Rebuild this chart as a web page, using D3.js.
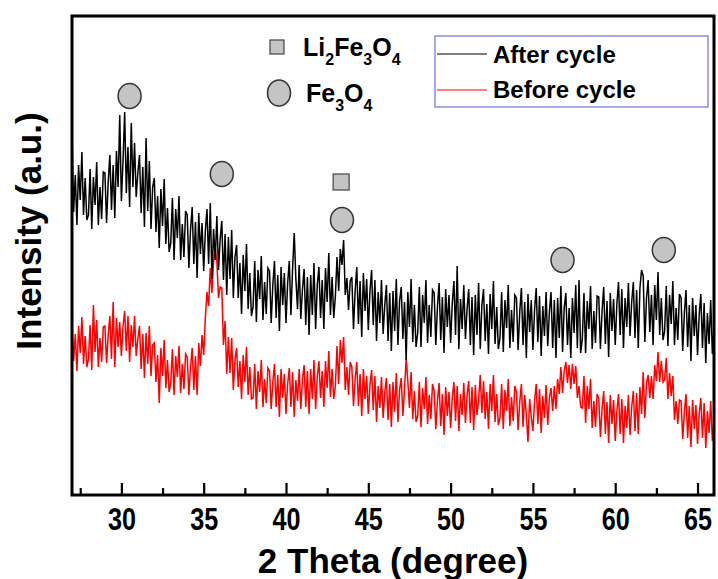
<!DOCTYPE html>
<html>
<head>
<meta charset="utf-8">
<script src="https://cdn.jsdelivr.net/npm/d3@7"></script>
<style>
  body { margin: 0; background: #fff; }
  svg { display: block; font-family: "Liberation Sans", Arial, sans-serif; font-weight: bold; }
</style>
</head>
<body>
<div id="chart"></div>
<script>
// scan grid (degrees 2theta)
const thetaStart = 27;
const thetaStep = 0.1;

// intensities, one row per degree (27.0 .. 65.9, then 66.0)
const afterCycle = [
  362, 283, 320, 270, 330, 295, 343, 280, 317, 275,
  280, 326, 266, 318, 290, 333, 270, 308, 276, 323,
  322, 272, 313, 340, 285, 330, 277, 344, 308, 380,
  294, 334, 383, 302, 348, 288, 372, 308, 352, 298,
  322, 340, 282, 328, 268, 357, 284, 334, 266, 308,
  317, 263, 299, 247, 306, 269, 316, 251, 287, 243,
  252, 297, 235, 286, 257, 299, 235, 271, 238, 284,
  280, 227, 265, 288, 231, 273, 217, 282, 241, 272,
  224, 264, 286, 231, 292, 216, 266, 235, 279, 225,
  256, 274, 215, 261, 200, 258, 216, 265, 197, 238,
  250, 197, 232, 181, 240, 204, 251, 186, 222, 179,
  188, 234, 173, 225, 196, 239, 175, 213, 181, 227,
  224, 172, 210, 234, 177, 220, 164, 228, 190, 222,
  172, 212, 234, 180, 226, 262, 216, 186, 230, 176,
  206, 226, 170, 218, 160, 220, 180, 232, 166, 210,
  228, 177, 215, 166, 227, 193, 242, 180, 218, 177,
  199, 238, 204, 246, 230, 255, 200, 217, 185, 214,
  218, 166, 204, 228, 171, 214, 158, 222, 184, 216,
  165, 204, 225, 170, 215, 154, 203, 172, 215, 161,
  190, 210, 154, 202, 144, 204, 164, 216, 150, 194,
  208, 156, 193, 135, 203, 168, 216, 153, 190, 148,
  162, 208, 148, 200, 172, 215, 152, 190, 158, 205,
  202, 150, 188, 212, 155, 198, 142, 206, 168, 200,
  152, 192, 214, 160, 229, 146, 196, 166, 210, 156,
  186, 206, 150, 198, 140, 200, 160, 212, 146, 190,
  206, 154, 191, 141, 201, 166, 214, 151, 188, 146,
  157, 203, 143, 195, 167, 210, 147, 185, 153, 200,
  197, 145, 183, 207, 150, 193, 137, 201, 163, 195,
  145, 185, 207, 153, 199, 139, 189, 159, 203, 149,
  183, 203, 147, 195, 137, 197, 157, 209, 143, 187,
  202, 150, 187, 137, 197, 162, 210, 147, 215, 142,
  156, 202, 142, 194, 166, 209, 146, 184, 152, 199,
  198, 146, 184, 208, 151, 194, 138, 202, 164, 196,
  150, 191, 213, 160, 206, 147, 197, 168, 212, 159,
  193, 213, 157, 205, 147, 207, 225, 219, 153, 197,
  215, 163, 200, 150, 210, 175, 223, 160, 197, 155,
  164, 209, 149, 200, 171, 214, 150, 187, 155, 201,
  197, 144, 182, 205, 148, 190, 134, 197, 159, 190,
  140, 180, 201, 147, 192, 132, 182, 151, 195, 141,
  168
];

const beforeCycle = [
  172, 134, 161, 124, 169, 142, 178, 131, 159, 128,
  136, 170, 125, 190, 143, 175, 128, 157, 133, 168,
  169, 132, 160, 179, 136, 193, 128, 177, 148, 173,
  139, 169, 184, 144, 179, 133, 170, 148, 179, 139,
  156, 169, 126, 161, 117, 162, 131, 169, 119, 150,
  152, 113, 140, 92, 147, 119, 155, 107, 135, 103,
  112, 146, 100, 139, 118, 149, 102, 131, 106, 141,
  138, 100, 128, 147, 105, 139, 100, 152, 129, 160,
  140, 177, 203, 189, 227, 202, 233, 247, 234, 197,
  208, 207, 150, 174, 121, 158, 122, 157, 105, 135,
  147, 108, 134, 96, 140, 113, 148, 100, 128, 96,
  97, 131, 86, 124, 103, 135, 88, 116, 92, 127,
  124, 86, 113, 131, 88, 120, 78, 126, 97, 121,
  81, 111, 127, 88, 123, 78, 115, 94, 126, 86,
  116, 130, 88, 124, 81, 126, 96, 135, 86, 118,
  134, 97, 124, 88, 134, 107, 144, 98, 126, 96,
  109, 149, 111, 155, 132, 158, 105, 128, 100, 133,
  128, 89, 116, 133, 89, 121, 79, 126, 96, 119,
  81, 110, 125, 85, 119, 73, 109, 87, 118, 77,
  103, 117, 75, 111, 68, 113, 83, 122, 73, 105,
  117, 79, 106, 137, 114, 87, 123, 76, 104, 73,
  79, 113, 68, 107, 86, 118, 71, 100, 76, 111,
  104, 66, 94, 112, 69, 101, 60, 108, 79, 103,
  67, 97, 113, 74, 109, 64, 101, 80, 112, 72,
  100, 114, 72, 108, 65, 110, 80, 95, 120, 82,
  114, 76, 103, 66, 111, 84, 120, 73, 101, 70,
  77, 111, 66, 105, 84, 116, 69, 98, 74, 109,
  103, 65, 93, 111, 68, 100, 80, 53, 96, 78,
  64, 94, 111, 71, 106, 62, 99, 77, 110, 70,
  97, 107, 84, 109, 86, 116, 101, 128, 102, 124,
  133, 112, 130, 106, 131, 111, 129, 97, 109, 88,
  87, 119, 72, 109, 86, 116, 67, 94, 68, 101,
  96, 58, 86, 104, 61, 93, 52, 100, 71, 95,
  54, 84, 101, 61, 96, 52, 89, 67, 100, 60,
  88, 104, 64, 102, 61, 108, 81, 123, 77, 112,
  120, 97, 119, 96, 130, 114, 143, 113, 134, 113,
  115, 137, 96, 122, 99, 119, 75, 94, 71, 95,
  94, 56, 83, 101, 57, 89, 48, 95, 66, 90,
  51, 81, 97, 57, 92, 47, 84, 62, 94, 54,
  72
];

const majorTicks = [30, 35, 40, 45, 50, 55, 60, 65];
const minorTicks = [27.5, 32.5, 37.5, 42.5, 47.5, 52.5, 57.5, 62.5];

// phase markers: position (2theta) and height (intensity) where they sit
const fe3o4Theta = [30.5, 36.1, 43.4, 56.8, 62.95];
const fe3o4Level = [399, 321, 275, 235, 245];
const li2Theta = [43.35];
const li2Level = [313];

const seriesNames = ["After cycle", "Before cycle"];
const seriesColors = ["#000000", "#ff0000"];

const width = 718, height = 579;
const margin = { left: 72, right: 4, top: 16, bottom: 84 };

const x = d3.scaleLinear([27, 66], [margin.left, width - margin.right]);
const y = d3.scaleLinear([0, 479], [height - margin.bottom, margin.top]);

const svg = d3.select("#chart").append("svg")
  .attr("width", width)
  .attr("height", height);

const line = d3.line()
  .x((v, i) => x(thetaStart + i * thetaStep))
  .y(v => y(v));

// red first so black sits on top where they touch
svg.selectAll(".series")
  .data([beforeCycle, afterCycle])
  .join("path")
  .attr("class", "series")
  .attr("fill", "none")
  .attr("stroke", (d, i) => i === 0 ? seriesColors[1] : seriesColors[0])
  .attr("stroke-width", 1.5)
  .attr("stroke-linejoin", "miter")
  .attr("d", line);

// x axis, ticks pointing inward
const xAxis = d3.axisBottom(x)
  .tickValues(majorTicks)
  .tickSizeInner(-12)
  .tickSizeOuter(0)
  .tickPadding(13)
  .tickFormat(d3.format("d"));

const gx = svg.append("g")
  .attr("transform", `translate(0,${y(0)})`)
  .call(xAxis);
gx.select(".domain").remove();
gx.selectAll(".tick line").attr("stroke", "#000").attr("stroke-width", 2.2);
gx.selectAll(".tick text")
  .attr("fill", "#000")
  .style("font-size", "31px")
  .style("font-weight", "bold")
  .attr("textLength", 28)
  .attr("lengthAdjust", "spacingAndGlyphs");

const gxMinor = svg.append("g")
  .attr("transform", `translate(0,${y(0)})`)
  .call(d3.axisBottom(x).tickValues(minorTicks).tickSizeInner(-7).tickSizeOuter(0).tickFormat(""));
gxMinor.select(".domain").remove();
gxMinor.selectAll(".tick line").attr("stroke", "#000").attr("stroke-width", 2.2);

// frame
svg.append("rect")
  .attr("x", x(27))
  .attr("y", y(479))
  .attr("width", x(66) - x(27))
  .attr("height", y(0) - y(479))
  .attr("fill", "none")
  .attr("stroke", "#000")
  .attr("stroke-width", 3);

// peak markers
svg.selectAll(".fe3o4")
  .data(fe3o4Theta)
  .join("ellipse")
  .attr("class", "fe3o4")
  .attr("cx", d => x(d))
  .attr("cy", (d, i) => y(fe3o4Level[i]))
  .attr("rx", 11.5)
  .attr("ry", 12.5)
  .attr("fill", "#c4c4c4")
  .attr("stroke", "#333")
  .attr("stroke-width", 1.5);

svg.selectAll(".li2")
  .data(li2Theta)
  .join("rect")
  .attr("class", "li2")
  .attr("x", d => x(d) - 8)
  .attr("y", (d, i) => y(li2Level[i]) - 8)
  .attr("width", 16)
  .attr("height", 16)
  .attr("fill", "#c4c4c4")
  .attr("stroke", "#444")
  .attr("stroke-width", 1.2);

// phase legend
const phase = svg.append("g");
phase.append("rect")
  .attr("x", 270).attr("y", 40).attr("width", 14).attr("height", 14)
  .attr("fill", "#c4c4c4").attr("stroke", "#444").attr("stroke-width", 1.2);
phase.append("ellipse")
  .attr("cx", 279).attr("cy", 93).attr("rx", 11.5).attr("ry", 13)
  .attr("fill", "#c4c4c4").attr("stroke", "#333").attr("stroke-width", 1.5);

// parts: [text, isSubscript]
const formula = (parts, tx, ty) => {
  let t = phase.append("text")
    .attr("x", tx).attr("y", ty)
    .style("font-size", "25px");
  let down = false;
  parts.forEach(([s, sub]) => {
    let dy = sub ? 9 : (down ? -9 : 0);
    down = sub;
    t.append("tspan")
      .text(s)
      .attr("dy", dy)
      .style("font-size", sub ? "16px" : "25px");
  });
};
formula([["Li", false], ["2", true], ["Fe", false], ["3", true], ["O", false], ["4", true]], 303, 56);
formula([["Fe", false], ["3", true], ["O", false], ["4", true]], 306, 102);

// series legend
const legend = svg.append("g");
legend.append("rect")
  .attr("x", 435).attr("y", 36).attr("width", 273).attr("height", 71)
  .attr("fill", "#fff").attr("stroke", "#8c8ce6").attr("stroke-width", 1.5);
legend.selectAll("line")
  .data(seriesNames)
  .join("line")
  .attr("x1", 437).attr("x2", 487)
  .attr("y1", (d, i) => 54 + i * 36).attr("y2", (d, i) => 54 + i * 36)
  .attr("stroke", (d, i) => seriesColors[i])
  .attr("stroke-width", 1.2);
legend.selectAll("text")
  .data(seriesNames)
  .join("text")
  .attr("x", 493)
  .attr("y", (d, i) => 63 + i * 35)
  .style("font-size", "24px")
  .text(d => d);

// axis titles
svg.append("text")
  .attr("x", (x(27) + x(66)) / 2)
  .attr("y", 573)
  .attr("text-anchor", "middle")
  .style("font-size", "35px")
  .text("2 Theta (degree)");

svg.append("text")
  .attr("transform", "translate(41,231) rotate(-90)")
  .attr("text-anchor", "middle")
  .style("font-size", "35px")
  .text("Intensity (a.u.)");
</script>
</body>
</html>
